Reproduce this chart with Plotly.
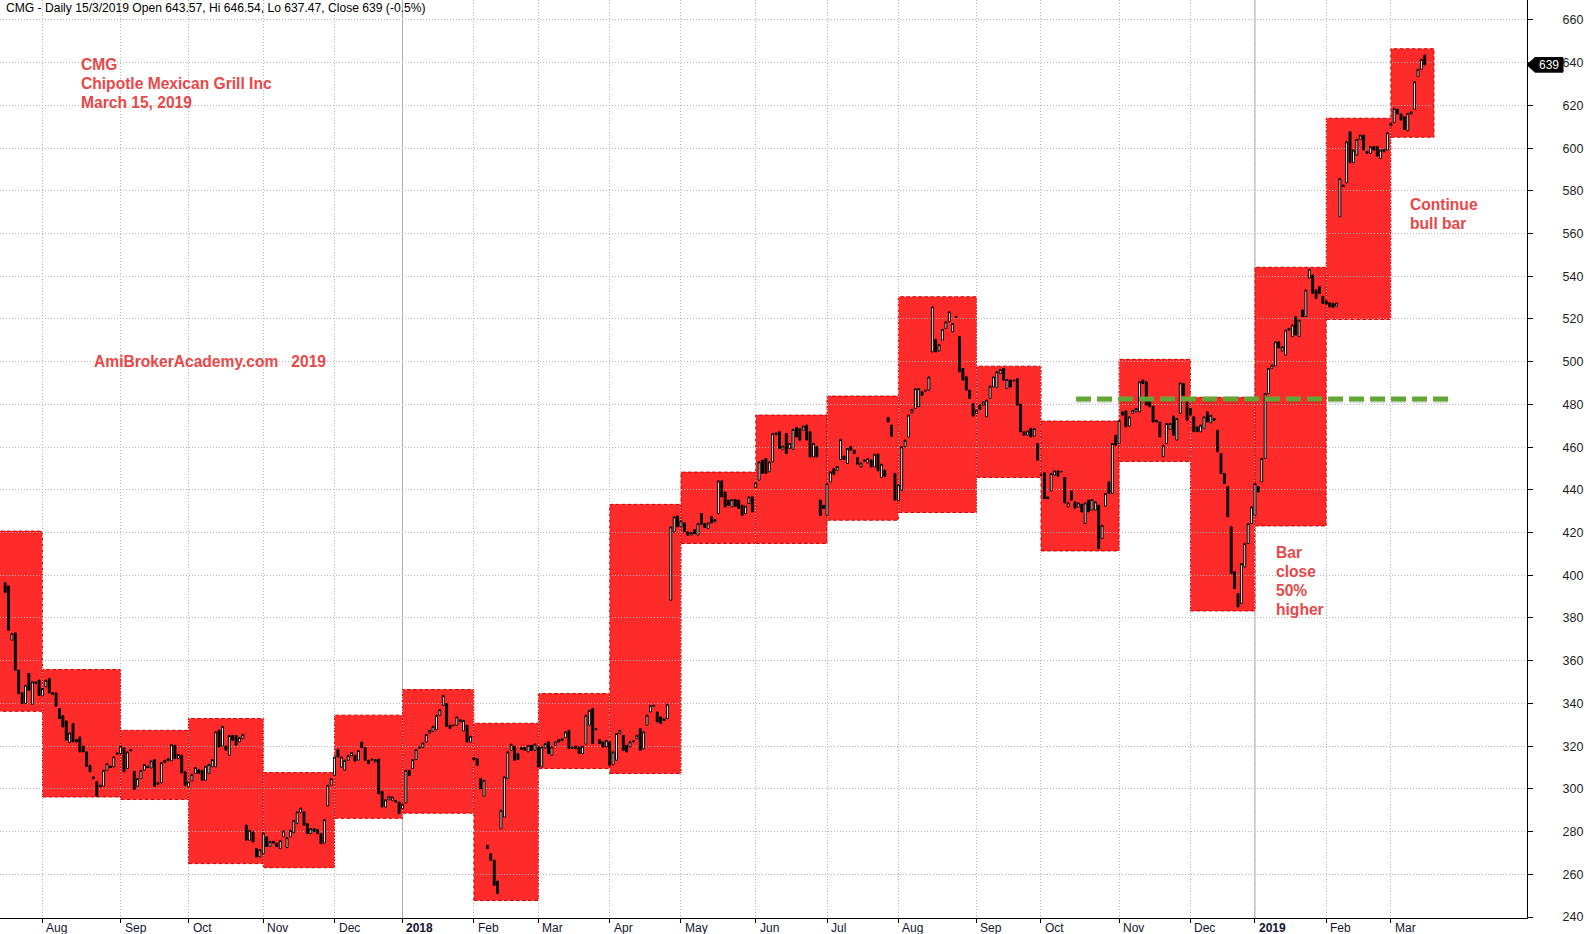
import plotly.graph_objects as go

# ---------------- data ----------------
# Daily candles per month as (open, close); Jul 2017 shows its last 11 sessions only.
jul17 = [(396.5,392),(395,374.3),(369.6,372.7),(373,355.6),(355.6,344.6),(345,340),(340,348.5),(354,346.2),(339.5,350.1),(349.3,350.1),(350.9,343.8)]
aug17 = [(343.5,347),(347.8,350.9),(351.7,344.9),(345,344.3),(344.9,338.7),(337.6,332.9),(334.2,329),(331.8,322.8),(321.7,326.2),(330.6,322),(323,322),(324.3,317.3),(320,317.3),(317.3,310.6),(311,308),(305.6,304.8),(303.3,296.5),(300.9,301.7),(301.2,308.7),(308.7,311.8),(310.6,310),(310.3,315),(316.2,316.8)]
sep17 = [(316.5,320),(319.2,308),(309.5,317.3),(318.4,317.8),(308.2,299.7),(301.2,304.8),(304.8,308.7),(308.7,311.4),(310.6,310),(309.8,313.1),(313.7,301.2),(302.8,302.2),(302.8,312.3),(312.3,313.4),(313.1,314.2),(313.1,320.7),(320.4,314.2),(314.2,316.1),(315.7,307.5),(308,301.7)]
oct17 = [(300.9,303.3),(303.7,306.8),(307.2,310),(309,307.2),(308.7,304),(304,310.6),(307.2,311.5),(310.3,313.7),(310.3,326.7),(327.5,319.6),(320.1,329.3),(320,318.1),(315.7,325),(325,322.8),(325,320.4),(322,324),(323.5,325.5),(283,276),(275.9,280.6),(279.8,275.1),(272,268.1),(268.1,271.5)]
nov17 = [(269.6,279.3),(277.5,273),(273,275.4),(275.4,274.6),(274.6,273),(272,275.9),(277.5,280.3),(272.5,277.1),(277.5,280.6),(279.5,285.3),(283.7,289.2),(289,291),(289.2,282.9),(283.7,279),(279,281.4),(281.4,280),(280.9,279),(279,274.3),(274.6,285.6),(292,301.7),(301.7,304.8)]
dec17 = [(306.3,314.9),(318.4,314.9),(310.2,314.9),(308.7,313.4),(313.4,315.7),(315.5,317),(315.7,313),(313.4,318),(321.9,319.3),(319.3,313.4),(313.4,311.8),(313.4,313.9),(312.6,313.7),(313.9,297.7),(298.8,291.5),(291.5,294.9),(294.9,296.5),(294.6,296.2),(294.6,293.8),(293.8,288.4)]
jan18 = [(290.7,292.8),(293.4,308.7),(308.7,306.3),(309.5,313.7),(313.7,318.4),(319,319.6),(319.3,321.5),(321.9,325.5),(326.1,327.4),(326.9,329.3),(327.7,334.4),(334.4,337.1),(339.1,343.8),(339.9,329.3),(329.8,328.2),(329.5,329.8),(329.8,333.7),(331.4,332.4),(327.1,332.1),(329.8,321.9),(321.9,324.6)]
feb18 = [(314.6,313.7),(314.1,311),(304.8,300.1),(296.5,304),(273.6,272),(269.6,266.6),(266.6,254.8),(256.8,251),(281.4,290),(286.8,305.6),(304.8,317.3),(318,320.9),(319.9,313.4),(316.5,313.7),(319.3,318.4),(319.3,318.1),(317.3,320.4),(320.4,318),(318,321)]
mar18 = [(319.6,310.3),(310.3,319.6),(319.1,321.2),(322,316.5),(315.7,319.6),(320.4,322),(323,322),(322.5,323.5),(324,326.7),(327.4,318.8),(319.6,319.1),(320,318.8),(319.6,316.5),(316.5,319.9),(320.9,334.5),(329.8,336.8),(337.6,321.2),(328.2,327.7),(323,321.2),(322,319.6),(319.6,322.7)]
apr18 = [(322,311),(311.3,317.3),(313.4,325.9),(325.9,327.4),(325.1,318),(320.4,317.3),(319.6,322),(322,322.4),(323.5,325.1),(328.2,318),(318.8,326.7),(329.8,334.5),(336,339.1),(338.7,339.1),(336,331.3),(333.7,330.6),(332,332.9),(332.9,339.6),(388.3,422.7),(420.3,427.4),(427.7,422.7)]
may18 = [(422.7,425.5),(424.5,420.3),(420.3,418.8),(418.8,420),(421.4,419.5),(418.8,424.2),(428.9,423.9),(424.2,422.4),(421.9,424.5),(427.4,424.5),(425,426.1),(428.9,444.2),(444.2,436.7),(439,432),(435.2,432.8),(432,435.5),(435.5,432.3),(435.2,431.3),(432.8,428.1),(428.9,432.4),(433.6,436.7),(436.7,429.7)]
jun18 = [(441.1,443.3),(444.5,453.1),(453.9,447.7),(454.7,447.7),(448.4,453.1),(453.1,466.4),(465.8,466.7),(467.2,459.4),(458.9,460.5),(466.4,457),(459.4,461.7),(458.9,468.3),(469.2,464.8),(468.7,463.3),(468,469.8),(470.3,463.3),(467.2,455.4),(455.4,461.7),(460.2,455.4),(435.2,428.1),(432.8,431.3)]
jul18 = [(428.1,443),(443.7,448.4),(450,447.3),(449.1,451),(454.2,463.6),(455.8,454.2),(452.3,459.4),(460.2,458.6),(458.6,457),(455.1,452),(450.7,452.6),(454,453.5),(452.6,454.7),(453.9,450.7),(450.7,456.7),(456.7,448.9),(445.8,452),(449.2,446.4),(473.9,471.8),(470.3,465.1),(447.7,435.2)]
aug18 = [(434.9,442.4),(439.8,460.2),(460.2,463.3),(464.8,475),(476,477.6),(478.1,487.4),(478.9,487.4),(485.9,484.3),(486.2,486.6),(486.7,492.9),(504.6,525.7),(510.4,504.6),(505,508),(510.1,515.1),(515.6,518.7),(518.7,523.4),(514,517.9),(520.7,521.2),(511.7,495.3),(496.8,491.4),(492.9,486.7),(486.7,482.8),(480.4,474.5)]
sep18 = [(475.8,477.3),(479.7,477.6),(479.7,481.2),(474.2,482),(482.8,488.6),(488.2,492.9),(487.9,495.3),(494.5,496.4),(496.8,491.4),(487.5,491.7),(491.4,488.2),(491,491.3),(492.1,479.7),(480.1,467.2),(467.2,465.6),(465.6,467.6),(468.7,464.8),(465.1,468.7),(461.7,453.9)]
oct18 = [(446.9,447.2),(448,435.9),(436.7,435.9),(439.5,447.7),(446.9,448.9),(448.9,446.4),(448.4,448.6),(445.8,433.9),(432,433.9),(439.5,435.2),(434.4,431.3),(432,433.9),(433.3,429.7),(424.2,433.9),(435.2,429.7),(430.5,435.5),(430.5,434.4),(432.8,412.5),(417.2,423.4),(432.4,438.3),(443.7,438.3),(438.3,461.7),(465.6,460.9)]
nov18 = [(461.7,472.6),(476.5,475),(477,469.5),(469.8,474.2),(475.8,477.3),(476.5,478.1),(476.5,490.6),(491.4,489.8),(490.6,479.7),(482,478.9),(479.2,471.8),(472.6,471.8),(471.8,464.8),(455.5,460.9),(461.7,471.1),(468.3,471.1),(474.5,465.6),(463.3,473.4),(475.8,490.1),(489.8,484.3),(481.2,472.6)]
dec18 = [(478.1,475),(474.2,467.2),(469.5,467.2),(467.2,470.3),(468.7,474.2),(476.5,471.8),(471.4,474.9),(473.4,472.6),(467.9,457.8),(457,447.6),(447.6,443),(441.4,427.4),(422.7,400.8),(401.6,393.8),(391.4,385.2),(386.8,405.5),(403.9,414.9),(414.9,424.2),(424.2,432)]
jan19 = [(428.1,443),(441.4,439),(443.7,454.7),(454.7,485.1),(485.1,496.8),(496.8,498.4),(498,509.3),(509.3,506.5),(505,507),(503.1,514.8),(515.6,514.8),(511.7,517.2),(521.1,512.5),(511.7,519.5),(524.2,521.1),(521.1,533.6),(539.1,543.3),(540.6,532),(533.6,529.7),(535.1,532),(530.5,527.3)]
feb19 = [(528.5,527),(527.6,525.7),(527.3,525.4),(526,527.5),(567.9,585.8),(582.7,582),(583.8,603),(607.7,593.2),(593.2,599.1),(596.8,604.1),(604.1,606.1),(606.1,599.1),(598.4,597.6),(597.6,600.7),(600.7,599.1),(600.7,596.3),(595.2,599.1),(599.4,598.3),(599.1,607.2)]
mar19 = [(610.4,611.6),(611.9,618.6),(618.2,616),(616,613.2),(614.7,608.8),(608.2,616.3),(616,617),(618.2,631.1),(633.5,636.9),(636.9,641.6),(643.57,639)]

months = [jul17, aug17, sep17, oct17, nov17, dec17, jan18, feb18, mar18, apr18, may18,
          jun18, jul18, aug18, sep18, oct18, nov18, dec18, jan19, feb19, mar19]

# Monthly bar (high / low) of each month, drawn as the red boxes
month_high = [420.7, 355.9, 327.4, 332.9, 307.6, 334.5, 346.5, 330.7, 344.6, 433.2, 448.3,
              475.0, 483.9, 530.4, 497.9, 472.2, 501.1, 483.3, 544.2, 614.0, 646.54]
month_low = [336.3, 296.2, 295.0, 265.0, 263.1, 286.2, 288.6, 247.7, 309.5, 307.2, 414.9,
             414.9, 425.8, 429.4, 445.8, 411.4, 453.3, 383.3, 423.1, 519.8, 605.1]
month_tick_labels = ["", "Aug", "Sep", "Oct", "Nov", "Dec", "2018", "Feb", "Mar", "Apr", "May",
                     "Jun", "Jul", "Aug", "Sep", "Oct", "Nov", "Dec", "2019", "Feb", "Mar"]

support_level = 482.5
title_text = "CMG - Daily 15/3/2019 Open 643.57, Hi 646.54, Lo 637.47, Close 639 (-0.5%)"

# ---------------- build series ----------------
o, c, x = [], [], []
starts = []
idx = -len(jul17)
for m in months:
    starts.append(idx)
    for (oo, cc) in m:
        o.append(oo); c.append(cc); x.append(idx)
        idx += 1
h = [max(a, b) for a, b in zip(o, c)]
l = [min(a, b) for a, b in zip(o, c)]

W, H = 1587, 934
ML, MR, MT, MB = 0, 60, 0, 16
PW, PH = W - ML - MR, H - MT - MB
XR = [-12.51, 437.1]
YR = [239.53, 669.36]

def px_x(p):  # pixel -> paper x
    return p / PW

def px_y(p):  # pixel -> paper y
    return 1 - p / PH

fig = go.Figure()
fig.add_trace(go.Candlestick(
    x=x, open=o, high=h, low=l, close=c,
    increasing=dict(line=dict(color="black", width=1), fillcolor="white"),
    decreasing=dict(line=dict(color="black", width=1), fillcolor="black"),
    whiskerwidth=0, showlegend=False, hoverinfo="skip"))

shapes = []
box_red = "#ff2b2b"
for i in range(len(months)):
    x0 = starts[i] if i > 0 else XR[0] - 1
    x1 = starts[i + 1] if i + 1 < len(months) else starts[i] + len(months[i]) + 1.7
    shapes.append(dict(type="rect", xref="x", yref="y", x0=x0, x1=x1,
                       y0=month_low[i], y1=month_high[i], fillcolor=box_red,
                       line=dict(color="#d40000", width=1, dash="4px,2px"), layer="below"))
# solid year separators
for i, lab in enumerate(month_tick_labels):
    if lab in ("2018", "2019"):
        shapes.append(dict(type="line", xref="x", yref="paper", x0=starts[i], x1=starts[i],
                           y0=0, y1=1, line=dict(color="#a9a9a9", width=1), layer="below"))
# green dashed support line
g0 = (1076 - 42.5) / 3.396
g1 = (1452 - 42.5) / 3.396
shapes.append(dict(type="line", xref="x", yref="y", x0=g0, x1=g1, y0=support_level - 0.9,
                   y1=support_level - 0.9, line=dict(color="rgba(0,0,0,0.12)", width=5, dash="15px,6px"),
                   layer="above"))
shapes.append(dict(type="line", xref="x", yref="y", x0=g0, x1=g1, y0=support_level,
                   y1=support_level, line=dict(color="#62a735", width=5, dash="15px,6px"),
                   layer="above"))
# last-price flag on the axis
last = c[-1]
dy = 7.3 / (PH / (YR[1] - YR[0]))
xa, xb, xc = 1.0, 1.0 + 8 / PW, 1.0 + 36 / PW
shapes.append(dict(type="path", xref="paper", yref="y",
                   path=f"M {xa},{last} L {xb},{last+dy} L {xc},{last+dy} L {xc},{last-dy} L {xb},{last-dy} Z",
                   fillcolor="black", line=dict(color="black", width=1), layer="above"))

annotations = []
FONT = "Liberation Sans, Arial, sans-serif"
annotations.append(dict(xref="paper", yref="paper", x=px_x(4), y=px_y(8), xanchor="left",
                        yanchor="middle", text=title_text, showarrow=False,
                        font=dict(family=FONT, size=12.1, color="black")))
red_txt = "#e84848"
def red_label(txt, xp, yp):
    annotations.append(dict(xref="paper", yref="paper", x=px_x(xp), y=px_y(yp), xanchor="left",
                            yanchor="middle", text=f"<b>{txt}</b>", showarrow=False,
                            font=dict(family=FONT, size=15.6, color=red_txt)))
red_label("CMG", 79, 64)
red_label("Chipotle Mexican Grill Inc", 79, 83)
red_label("March 15, 2019", 79, 102)
red_label("AmiBrokerAcademy.com\u00a0\u00a0\u00a02019", 92, 361)
red_label("Continue", 1408, 205)
red_label("bull bar", 1408, 224)
for k, t in enumerate(["Bar", "close", "50%", "higher"]):
    red_label(t, 1274, 552 + 19 * k)

annotations.append(dict(xref="paper", yref="y", x=1.0 + 22 / PW, y=last, xanchor="center",
                        yanchor="middle", text=f"{last:g}", showarrow=False,
                        font=dict(family=FONT, size=12, color="white")))

tickvals = []
for i, lab in enumerate(month_tick_labels):
    if lab == "":
        continue
    tickvals.append(starts[i])
    txt = f"<b>{lab}</b>" if lab in ("2018", "2019") else lab
    annotations.append(dict(xref="x", yref="paper", x=starts[i], y=0, xanchor="left", yanchor="top",
                            xshift=2, yshift=-1, text=txt, showarrow=False,
                            font=dict(family=FONT, size=12, color="#141432")))

grid = "#b5b5b5"
fig.update_layout(
    width=W, height=H, margin=dict(l=ML, r=MR, t=MT, b=MB),
    paper_bgcolor="white", plot_bgcolor="white", showlegend=False,
    shapes=shapes, annotations=annotations, boxgap=0.2,
    xaxis=dict(range=XR, tickvals=tickvals, ticks="outside", ticklen=4, tickcolor="black",
               showticklabels=False, showgrid=True, gridcolor=grid, griddash="1px,2px", gridwidth=1,
               showline=True, linecolor="black", linewidth=1, zeroline=False,
               rangeslider=dict(visible=False), fixedrange=True),
    yaxis=dict(side="right", range=YR, tickvals=list(range(240, 661, 20)), ticks="outside",
               ticklen=5, tickcolor="black", showgrid=True, gridcolor=grid, griddash="1px,2px",
               gridwidth=1, showline=True, linecolor="black", linewidth=1, zeroline=False,
               tickfont=dict(family=FONT, size=12.5, color="#1e1e1e"), ticklabelstandoff=27,
               fixedrange=True),
)

fig.write_html("out.html", config={"displayModeBar": False},
               post_script="document.body.style.margin='0';document.body.style.overflow='hidden';")
